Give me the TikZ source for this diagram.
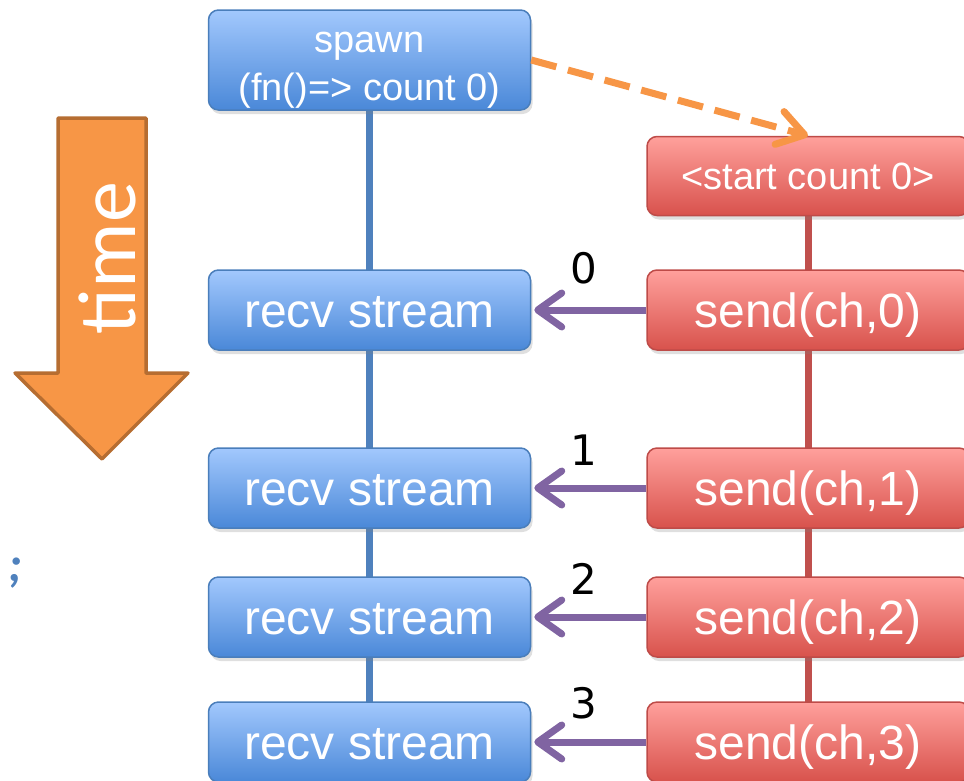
\documentclass[tikz,border=0pt]{standalone}
\usepackage{fontspec}
\setmainfont{Liberation Sans}
\newfontfamily\digitfont{DejaVu Sans}
\newfontfamily\timefont{Carlito}
\usetikzlibrary{arrows.meta,shadows,backgrounds}
\definecolor{bluetop}{HTML}{A2C8FD}
\definecolor{bluebot}{HTML}{4A88D8}
\definecolor{blueborder}{HTML}{4A7EBB}
\definecolor{blueline}{HTML}{4F81BD}
\definecolor{redtop}{HTML}{FFA09C}
\definecolor{redbot}{HTML}{D8524C}
\definecolor{redborder}{HTML}{BE4B48}
\definecolor{redline}{HTML}{C0504D}
\definecolor{msgpurple}{HTML}{8064A2}
\definecolor{orangefill}{HTML}{F79646}
\definecolor{orangeborder}{HTML}{B66D31}
\tikzset{
  box/.style={rectangle, rounded corners=10pt, line width=1.5pt, minimum width=322pt,
    text=white, inner sep=0pt,
    drop shadow={opacity=0.25, shadow xshift=2pt, shadow yshift=-4pt}},
  bluebox/.style={box, draw=blueborder, top color=bluetop, bottom color=bluebot},
  redbox/.style={box, draw=redborder, top color=redtop, bottom color=redbot},
  bigtext/.style={font=\fontsize{48}{52}\selectfont, text height=35pt, text depth=0pt, minimum height=80pt},
  smalltext/.style={font=\fontsize{38}{48}\selectfont},
  blueaxis/.style={draw=blueline, line width=7pt},
  redaxis/.style={draw=redline, line width=7pt},
  msg/.style={draw=msgpurple, line width=7pt, -{Straight Barb[length=24pt,width=34pt,round]}, shorten >=3pt},
  msglabel/.style={font=\digitfont\fontsize{42}{46}\selectfont, inner sep=0pt, text=black},
  spawnarrow/.style={draw=orangefill, line width=7pt, dash pattern=on 26pt off 12pt,
    -{Straight Barb[length=26pt,width=34pt,round]}},
  timearrow/.style={fill=orangefill, draw=orangeborder, line width=3.5pt, line join=round}
}
\begin{document}
\begin{tikzpicture}[x=1pt,y=-1pt]
\useasboundingbox (0,0) rectangle (964,780);
\clip (0,0) rectangle (964,780);

% time arrow
\draw[timearrow] (58,118) -- (146,118) -- (146,373) -- (188,373) -- (102,459) -- (15,373) -- (58,373) -- cycle;
\node[rotate=90, text=white, font=\timefont\fontsize{82}{86}\selectfont, inner sep=0pt, text depth=0pt] (timelabel) at (107,258) {time};

% semicolon
\node[text=blueline, font=\timefont\bfseries\itshape\fontsize{50}{54}\selectfont, inner sep=0pt] (semi) at (15,573) {;};

% left column
\node[bluebox, smalltext, minimum height=100pt, align=center] (spawn) at (369.5,60) {\rule{0pt}{40pt}spawn\\(fn()=> count 0)};
\node[bluebox, bigtext] (r0) at (369.5,310) {recv stream};
\node[bluebox, bigtext] (r1) at (369.5,488) {recv stream};
\node[bluebox, bigtext] (r2) at (369.5,617) {recv stream};
\node[bluebox, bigtext] (r3) at (369.5,742) {recv stream};

% right column
\node[redbox, smalltext, minimum height=79pt, text depth=0pt] (start) at (808,176) {<start count 0>};
\node[redbox, bigtext] (s0) at (808,310) {send(ch,0)};
\node[redbox, bigtext] (s1) at (808,488) {send(ch,1)};
\node[redbox, bigtext] (s2) at (808,617) {send(ch,2)};
\node[redbox, bigtext] (s3) at (808,742) {send(ch,3)};

\begin{scope}[on background layer]
  \draw[blueaxis] (spawn.center) -- (r3.center);
  \draw[redaxis] (start.center) -- (s3.center);
\end{scope}

\draw[spawnarrow] (spawn.east) -- (start.north);

\draw[msg] (s0.west) -- (r0.east) node[msglabel, midway, above=22pt, xshift=-5pt] {0};
\draw[msg] (s1.west) -- (r1.east) node[msglabel, midway, above=19pt, xshift=-5pt] {1};
\draw[msg] (s2.west) -- (r2.east) node[msglabel, midway, above=19pt, xshift=-5pt] {2};
\draw[msg] (s3.west) -- (r3.east) node[msglabel, midway, above=19pt, xshift=-5pt] {3};
\end{tikzpicture}
\end{document}
